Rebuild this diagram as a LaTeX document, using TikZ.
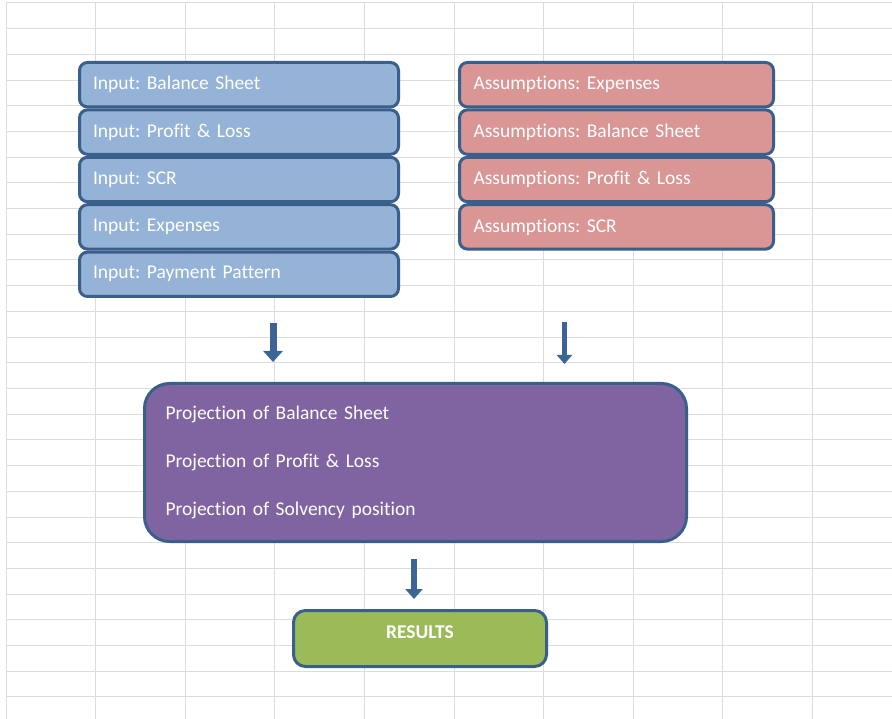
\documentclass[tikz,border=0pt]{standalone}
\usepackage{fontspec}
\setmainfont{Carlito}[Ligatures=NoCommon]
\usepackage{tikz}
\usetikzlibrary{positioning,arrows.meta}
\frenchspacing

\definecolor{gridgray}{HTML}{DCDCDC}
\definecolor{edgeblue}{HTML}{3A5F8B}
\definecolor{inblue}{HTML}{95B3D7}
\definecolor{asred}{HTML}{D99694}
\definecolor{projpurple}{HTML}{8064A2}
\definecolor{resgreen}{HTML}{9BBB59}
\definecolor{arrowblue}{HTML}{3C6496}

\begin{document}
\begin{tikzpicture}[x=1pt,y=-1pt,
    gridline/.style={gridgray,line width=1pt},
    box/.style={draw=edgeblue,line width=3pt,text=white,align=left,
      font=\fontsize{19.5}{23}\selectfont},
    inbox/.style={box,fill=inblue,rounded corners=8pt,minimum height=44.4pt,
      inner xsep=13.5pt,text width=292pt},
    asbox/.style={box,fill=asred,rounded corners=8pt,minimum height=44.4pt,
      inner xsep=14pt,text width=286pt},
    flow/.style={draw=arrowblue,line width=6pt,-{Triangle[width=17pt,length=10pt]}}]
    \fill[white] (0,0) rectangle (892,719);
    \useasboundingbox (0,0) rectangle (892,719);
    %grid
    \foreach \i in {0,...,9}
      \draw[gridline] (6+89.6*\i,3) -- (6+89.6*\i,719);
    \foreach \j in {0,...,27}
      \draw[gridline] (6,3+25.7*\j) -- (892,3+25.7*\j);
    %inputs
    \node[inbox] (in1) at (239,84.7) {Input: Balance Sheet};
    \node[inbox,below=0pt of in1] (in2) {Input: Profit \& Loss};
    \node[inbox,below=0pt of in2] (in3) {Input: SCR};
    \node[inbox,below=0pt of in3] (in4) {Input: Expenses};
    \node[inbox,below=0pt of in4] (in5) {Input: Payment Pattern};
    %assumptions
    \node[asbox] (as1) at (616.5,84.7) {Assumptions: Expenses};
    \node[asbox,below=0pt of as1] (as2) {Assumptions: Balance Sheet};
    \node[asbox,below=0pt of as2] (as3) {Assumptions: Profit \& Loss};
    \node[asbox,below=0pt of as3] (as4) {Assumptions: SCR};
    %projection and results
    \node[box,fill=projpurple,rounded corners=25pt,minimum height=158pt,
      inner xsep=21pt,text width=500pt,font=\fontsize{19.5}{48}\selectfont]
      (proj) at (415.5,462.5)
      {Projection of Balance Sheet\\Projection of Profit \& Loss\\Projection of Solvency position};
    \node[box,fill=resgreen,rounded corners=12pt,minimum width=253pt,minimum height=56pt,
      align=center,text depth=12pt,font=\fontsize{19.5}{23}\selectfont\bfseries]
      (res) at (420,638.5) {RESULTS};
    %arrows
    \draw[flow,line width=7pt,-{Triangle[width=19pt,length=11pt]},shorten <=25pt,shorten >=20pt]
      ([xshift=34pt]in5.south) -- ([xshift=34pt]in5.south |- proj.north);
    \draw[flow,line width=5pt,-{Triangle[width=15pt,length=9pt]},shorten <=71pt,shorten >=18pt]
      ([xshift=-52pt]as4.south) -- ([xshift=-52pt]as4.south |- proj.north);
    \draw[flow,shorten <=16pt,shorten >=10pt]
      ([xshift=-1.5pt]proj.south) -- ([xshift=-1.5pt]proj.south |- res.north);
\end{tikzpicture}
\end{document}
